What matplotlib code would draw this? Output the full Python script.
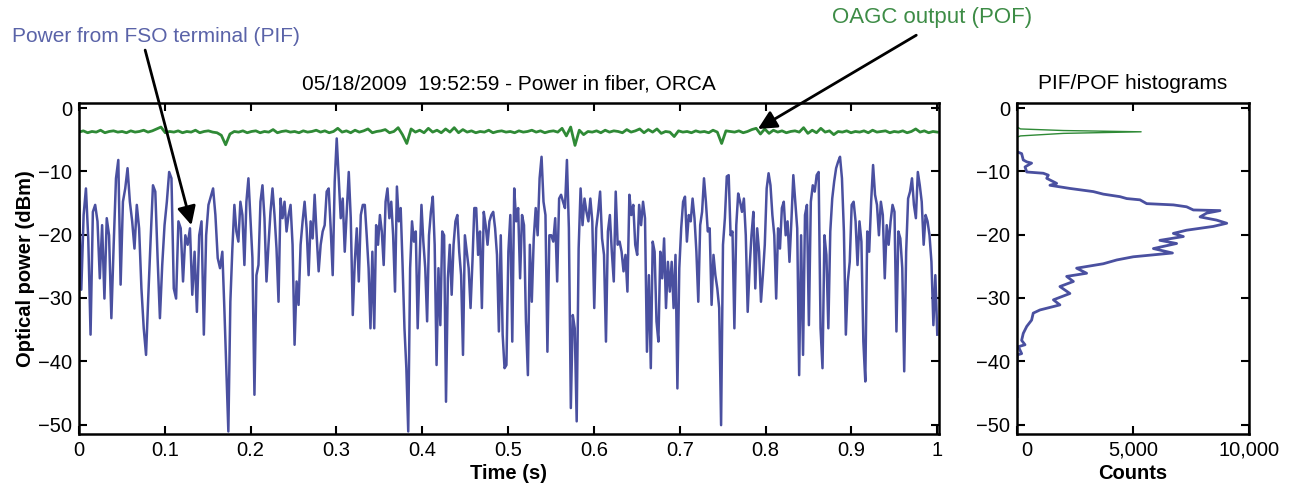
import numpy as np
import matplotlib.pyplot as plt
import matplotlib.transforms as mtransforms

# DATA ---------------------------------------------------------------------------------------------
# power from FSO terminal (PIF), dBm, read off in six consecutive time segments
seg_edges = [0.0, 0.167, 0.333, 0.498, 0.664, 0.830, 1.0]

pif_seg1 = [-14.8, -28.7, -16.9, -12.7, -20.6, -35.8, -16.4, -15.3, -17.9, -26.9, -18.5, -30.1,
            -17.4, -20.1, -33.2, -21.6, -11.1, -8.2, -27.9, -14.8, -12.7, -9.5, -14.8, -17.9,
            -22.2, -15.3, -19.0, -28.5, -34.8, -39.0, -29.5, -20.6, -12.2, -13.2, -23.7, -33.2,
            -24.8, -18.5, -14.8, -10.1, -11.1, -28.5, -30.1, -17.9, -19.0, -27.4, -20.1, -21.6,
            -19.0, -29.5, -22.7, -32.2, -20.1, -17.9, -35.8, -20.1, -15.3, -14.0, -12.7, -16.9,
            -23.7, -25.3]
pif_seg2 = [-22.7, -31.6, -41.1, -51.1, -30.6, -22.2, -15.3, -19.5, -21.1, -14.8, -16.9, -24.8,
            -14.8, -11.1, -17.4, -23.7, -45.3, -26.4, -24.8, -14.8, -12.2, -17.4, -27.4, -21.6,
            -16.4, -12.7, -16.9, -22.2, -30.6, -14.3, -17.4, -14.8, -19.5, -16.9, -15.3, -21.6,
            -37.4, -27.4, -31.1, -21.6, -17.9, -14.8, -19.0, -26.4, -17.9, -20.6, -13.7, -20.1,
            -25.8, -21.6, -19.5, -18.5, -13.2, -12.7, -19.0, -26.4, -11.6, -4.8, -11.1, -17.4,
            -14.3, -22.7, -16.4, -10.1, -17.4, -32.7, -24.3, -19.0, -27.4, -16.9, -15.3]
pif_seg3 = [-15.3, -20.1, -25.3, -34.8, -22.7, -34.8, -18.5, -21.6, -16.9, -19.5, -24.8, -14.8,
            -12.7, -17.4, -14.8, -20.1, -29.0, -12.4, -17.9, -15.8, -24.8, -34.8, -41.1, -51.1,
            -25.3, -17.9, -21.1, -19.5, -34.8, -24.3, -15.3, -21.1, -25.3, -33.7, -20.1, -16.4,
            -14.0, -21.6, -40.6, -25.3, -34.3, -19.5, -20.1, -46.4, -26.9, -21.6, -29.5, -21.6,
            -17.9, -16.9, -22.7, -26.4, -39.0, -20.1, -22.7, -25.3, -31.6, -24.3, -15.8, -15.8,
            -23.2, -19.5, -31.6, -16.4, -18.5, -21.6, -17.9, -16.9, -16.4, -19.0, -23.2, -35.3,
            -20.1, -35.8, -41.1]
pif_seg4 = [-40.6, -22.7, -16.9, -36.9, -12.7, -17.9, -15.8, -26.9, -16.9, -18.5, -33.7, -42.2,
            -21.6, -30.6, -20.6, -15.8, -20.1, -11.1, -7.7, -14.8, -16.9, -38.5, -20.1, -20.1,
            -21.1, -17.4, -27.4, -14.3, -13.7, -14.8, -15.8, -8.2, -19.0, -47.4, -32.7, -34.8,
            -49.5, -22.2, -12.7, -18.5, -14.3, -16.4, -17.9, -14.3, -17.9, -31.6, -19.0, -16.4,
            -13.2, -20.6, -23.2, -36.9, -19.5, -16.9, -22.7, -27.4, -13.2, -21.6, -21.1, -22.7,
            -25.8, -23.2, -29.0, -13.7, -16.9, -15.3, -21.6, -23.2, -15.3, -18.5, -14.8, -17.4,
            -38.5]
pif_seg5 = [-26.4, -41.1, -21.1, -22.7, -33.7, -36.9, -22.7, -26.9, -20.6, -31.6, -24.3, -29.0,
            -24.3, -31.6, -23.2, -44.3, -25.3, -19.0, -14.8, -14.0, -21.1, -16.9, -17.9, -14.3,
            -17.4, -22.7, -30.6, -18.5, -16.4, -11.1, -14.8, -19.5, -19.0, -31.1, -23.2, -26.4,
            -28.5, -31.6, -50.1, -21.6, -17.4, -10.8, -10.6, -20.1, -19.5, -34.8, -18.5, -13.5,
            -14.8, -16.4, -14.3, -20.1, -32.2, -25.3, -20.1, -16.4, -28.5, -19.0, -22.7, -30.6,
            -26.4, -21.6, -12.7, -10.3, -12.2, -16.9, -20.1, -30.1, -19.0, -22.2, -15.8, -14.8,
            -20.1, -17.9, -24.3]
pif_seg6 = [-17.9, -10.6, -14.8, -19.0, -42.2, -20.1, -39.0, -16.9, -15.3, -34.3, -14.8, -12.2,
            -13.2, -10.6, -10.1, -34.8, -41.1, -20.1, -23.2, -34.8, -19.5, -14.3, -11.6, -9.5,
            -8.5, -7.7, -11.1, -19.5, -35.8, -27.4, -24.3, -15.3, -14.8, -17.9, -24.8, -17.9,
            -21.1, -36.9, -43.2, -19.5, -22.7, -14.8, -9.0, -13.7, -15.3, -20.1, -14.8, -16.9,
            -26.9, -18.5, -21.6, -17.9, -15.3, -16.4, -35.3, -19.5, -20.6, -25.3, -41.6, -22.7,
            -14.3, -13.2, -11.1, -15.3, -17.4, -10.1, -12.2, -14.8, -21.6, -16.9, -17.9, -20.1,
            -24.3, -34.3, -26.4, -35.8]

# OAGC output (POF), dBm, evenly spaced over the 1 s record
pof = [-3.8, -3.6, -3.9, -3.7, -3.8, -3.5, -3.9, -3.7, -3.6, -3.8,
       -3.7, -3.9, -3.6, -3.8, -3.7, -3.5, -3.8, -3.6, -3.3, -3.0,
       -3.9, -3.7, -3.8, -3.6, -3.9, -3.7, -3.8, -3.5, -3.9, -3.7,
       -3.6, -3.8, -3.9, -4.3, -5.8, -4.1, -3.7, -3.8, -3.6, -3.9,
       -3.7, -3.6, -3.9, -3.7, -3.8, -3.4, -3.9, -3.7, -3.6, -3.8,
       -3.7, -3.9, -3.6, -3.8, -3.7, -3.5, -3.8, -3.6, -3.9, -3.7,
       -3.2, -3.8, -3.6, -3.9, -3.5, -3.8, -3.6, -3.3, -3.9, -3.7,
       -3.6, -3.4, -3.9, -3.7, -3.1, -4.2, -5.6, -3.3, -3.8, -3.5,
       -3.9, -3.2, -3.8, -3.5, -3.9, -3.3, -3.8, -3.1, -3.9, -3.4,
       -3.8, -3.6, -3.9, -3.7, -3.8, -3.5, -3.9, -3.7, -3.6, -3.8,
       -3.7, -3.9, -3.6, -3.8, -3.7, -3.5, -3.8, -3.6, -3.9, -3.7,
       -3.6, -3.8, -3.2, -4.4, -3.0, -5.9, -3.5, -4.2, -3.7, -3.8,
       -3.6, -3.9, -3.5, -3.8, -3.6, -3.7, -3.9, -3.4, -3.8, -3.6,
       -3.3, -3.9, -3.4, -3.8, -3.3, -4.0, -3.7, -3.8, -4.5, -3.6,
       -3.8, -3.7, -3.9, -3.6, -3.8, -3.7, -3.9, -3.5, -3.8, -5.6,
       -3.6, -3.7, -3.8, -3.6, -3.9, -3.7, -3.4, -3.2, -4.1, -3.3,
       -4.0, -3.5, -3.8, -3.6, -3.9, -3.7, -3.6, -3.8, -3.1, -4.0,
       -3.5, -3.9, -3.2, -3.8, -3.6, -4.2, -3.7, -3.8, -3.6, -3.9,
       -3.7, -3.8, -3.6, -3.9, -3.5, -3.8, -3.7, -3.6, -3.9, -3.7,
       -3.8, -3.6, -3.9, -3.7, -3.3, -3.8, -3.6, -3.9, -3.7, -3.8]

# histograms (counts vs dBm)
pif_hist_db = [-6.9, -7.2, -8.2, -8.5, -8.7, -9.3, -10.1, -10.3, -10.6, -11.1, -11.9, -12.2,
               -12.7, -13.2, -13.6, -14.0, -14.3, -14.5, -15.1, -15.3, -15.6, -16.1, -16.2,
               -16.6, -17.2, -17.7, -18.2, -18.7, -19.3, -19.8, -20.3, -20.9, -21.4, -22.2,
               -22.9, -23.5, -24.0, -24.6, -25.3, -26.1, -26.6, -27.4, -28.2, -29.3, -30.3,
               -31.1, -31.9, -32.4, -33.5, -34.5, -35.6, -36.7, -37.4, -37.7, -38.8, -39.0,
               -40.9, -45.6]
pif_hist_counts = [0, 200, 270, 420, 630, 345, 420, 1135, 1350, 1280, 1710, 1420,
                   2280, 3290, 3720, 4440, 4730, 5300, 5590, 6740, 7310, 7600, 8750,
                   8175, 7890, 8600, 9040, 8460, 7310, 6740, 7170, 6160, 6880, 5880,
                   6700, 5010, 4300, 3720, 2570, 3000, 2140, 2430, 1850, 2280, 1570,
                   1850, 990, 700, 630, 420, 270, 200, 345, 60, 200, 14,
                   0, 0]
pof_hist_db = [-3.0, -3.3, -3.55, -3.75, -4.0, -4.4, -4.6]
pof_hist_counts = [0, 150, 2000, 5350, 2000, 150, 0]

blue = '#4a50a0'
green = '#2f8a36'
db_ticks = [0, -10, -20, -30, -40, -50]
db_labels = ['0', '\u221210', '\u221220', '\u221230', '\u221240', '\u221250']

plt.rcParams['font.family'] = ['Liberation Sans', 'DejaVu Sans']

# MATPLOTLIB ---------------------------------------------------------------------------------------
fig = plt.figure(figsize=(12.96, 4.96), dpi=100)
ax = fig.add_axes([79 / 1296, 1 - 434 / 496, 860 / 1296, 331 / 496])
ax2 = fig.add_axes([1017 / 1296, 1 - 434 / 496, 232 / 1296, 331 / 496])

# time series
segs = [pif_seg1, pif_seg2, pif_seg3, pif_seg4, pif_seg5, pif_seg6]
t_pif = []
for i, seg in enumerate(segs):
    t_pif.append(np.linspace(seg_edges[i], seg_edges[i + 1], len(seg), endpoint=(i == len(segs) - 1)))
t_pif = np.concatenate(t_pif)
v_pif = np.concatenate(segs)
t_pof = np.linspace(0, 1, len(pof))

ax.plot(t_pof, pof, color=green, lw=2.0)
ax.plot(t_pif, v_pif, color=blue, lw=1.8)

ax.set_xlim(0, 1.002)
ax.set_ylim(-51.5, 0.8)
ax.set_xticks(np.arange(0, 1.01, 0.1))
ax.set_xticklabels(['0', '0.1', '0.2', '0.3', '0.4', '0.5', '0.6', '0.7', '0.8', '0.9', '1'])
ax.set_yticks(db_ticks)
ax.set_yticklabels(db_labels)
ax.set_xlabel('Time (s)', fontsize=14.5, fontweight='bold', labelpad=3)
ax.set_ylabel('Optical power (dBm)', fontsize=14.5, fontweight='bold', labelpad=2)
ax.set_title('05/18/2009  19:52:59 - Power in fiber, ORCA', fontsize=15, pad=10)

# histograms
ax2.plot(pof_hist_counts, pof_hist_db, color=green, lw=1.0)
ax2.plot(pif_hist_counts, pif_hist_db, color=blue, lw=2.0)
ax2.set_xlim(0, 10000)
ax2.set_ylim(-51.5, 0.8)
ax2.set_xticks([0, 5000, 10000])
ax2.set_xticklabels(['0', '5,000', '10,000'])
ax2.set_yticks(db_ticks)
ax2.set_yticklabels(db_labels)
ax2.set_xlabel('Counts', fontsize=14.5, fontweight='bold', labelpad=3)
ax2.set_title('PIF/POF histograms', fontsize=15, pad=10)

for a in (ax, ax2):
    a.tick_params(direction='in', top=True, right=True, length=6, width=1.5, labelsize=14.5, pad=5)
    for s in a.spines.values():
        s.set_linewidth(1.8)

# the "0" count label sits a little right of its tick in the original
shift = mtransforms.ScaledTranslation(10 / 100, 0, fig.dpi_scale_trans)
lbl0 = ax2.get_xticklabels()[0]
lbl0.set_transform(lbl0.get_transform() + shift)

# annotations
fig.text(0.120, 0.927, 'Power from FSO terminal (PIF)', color='#5a63a8', fontsize=15,
         ha='center', va='center')
fig.text(0.719, 0.964, 'OAGC output (POF)', color='#3d8c46', fontsize=16,
         ha='center', va='center')
arrow = dict(arrowstyle='-|>', lw=2, color='k', mutation_scale=28, shrinkA=0, shrinkB=0)
ax.annotate('', xy=(0.131, -18.5), xycoords='data', xytext=(0.112, 0.899),
            textcoords='figure fraction', arrowprops=arrow)
ax.annotate('', xy=(0.791, -3.3), xycoords='data', xytext=(0.707, 0.929),
            textcoords='figure fraction', arrowprops=arrow)

fig.savefig('out.png', dpi=100)
